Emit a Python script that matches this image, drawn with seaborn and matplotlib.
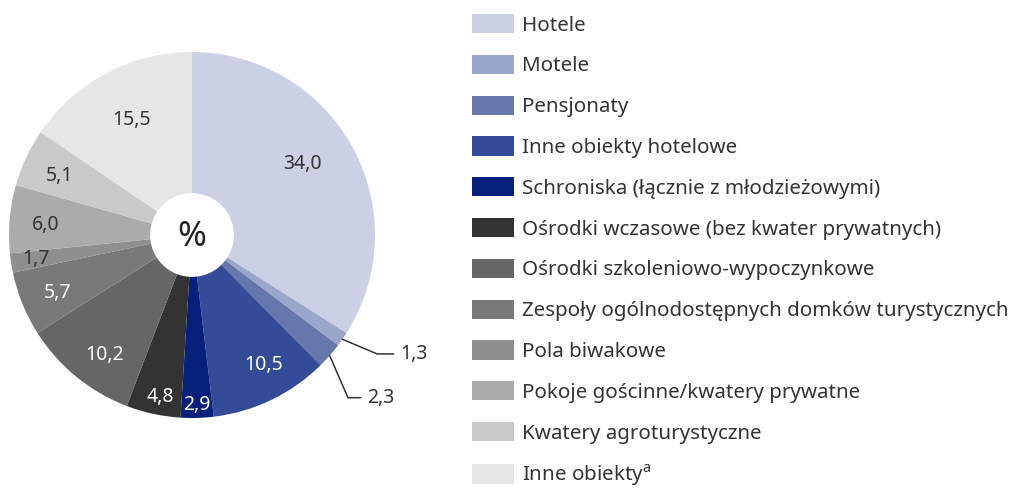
import numpy as np
import matplotlib
matplotlib.use("Agg")
import matplotlib.pyplot as plt
import seaborn as sns

categories = [
    "Hotele", "Motele", "Pensjonaty", "Inne obiekty hotelowe",
    "Schroniska (łącznie z młodzieżowymi)",
    "Ośrodki wczasowe (bez kwater prywatnych)",
    "Ośrodki szkoleniowo-wypoczynkowe",
    "Zespoły ogólnodostępnych domków turystycznych",
    "Pola biwakowe", "Pokoje gościnne/kwatery prywatne",
    "Kwatery agroturystyczne", "Inne obiekty$^{\\mathrm{a}}$",
]
values = [34.0, 1.3, 2.3, 10.5, 2.9, 4.8, 10.2, 5.7, 1.7, 6.0, 5.1, 15.5]
value_labels = ["34,0", "1,3", "2,3", "10,5", "2,9", "4,8", "10,2", "5,7", "1,7", "6,0", "5,1", "15,5"]
colors = ["#cbd0e4", "#9ba6cc", "#6677ab", "#344b97", "#07207c", "#333333",
          "#666666", "#797979", "#8f8f8f", "#ababab", "#c9c9c9", "#e6e6e6"]

# layout only
label_r = [0.72, None, None, 0.81, 0.93, 0.90, 0.81, 0.80, 0.86, 0.80, 0.79, 0.71]
label_dang = [4, 0, 0, 3, 0, 1, 3, 1, 0, 1, 1, 0]
white_text = [False, False, False, True, True, True, True, True, False, False, False, False]
leader = {1: ((0.19, -0.08), 0.09), 2: ((0.10, -0.23), 0.07)}

sns.set_theme(style="white")
plt.rcParams["font.family"] = ["Noto Sans", "DejaVu Sans"]
plt.rcParams["mathtext.fontset"] = "custom"
plt.rcParams["mathtext.rm"] = "Noto Sans"

W, H = 1017, 491
fig = plt.figure(figsize=(W / 100, H / 100), dpi=100)
fig.patch.set_facecolor("white")

ppu = 183.0
cx, cy = 192.0, 235.0
xl = (-1.05, 1.55)
yl = (-1.25, 1.28)
ax = fig.add_axes([(cx + xl[0] * ppu) / W, (H - (cy - yl[0] * ppu)) / H,
                   (xl[1] - xl[0]) * ppu / W, (yl[1] - yl[0]) * ppu / H])

wedges, _ = ax.pie(values, colors=colors, startangle=90, counterclock=False,
                   radius=1.0, wedgeprops=dict(linewidth=0))
ax.set_xlim(*xl)
ax.set_ylim(*yl)
ax.set_axis_off()

# center hole
ax.add_patch(plt.Circle((0, 0), 0.225, color="white", zorder=5))
ax.text(0, -0.01, "%", ha="center", va="center", fontsize=25, color="#222222", zorder=6)

for i, w in enumerate(wedges):
    mid = np.deg2rad((w.theta1 + w.theta2) / 2 + label_dang[i])
    if label_r[i] is not None:
        r = label_r[i]
        ax.text(r * np.cos(mid), r * np.sin(mid), value_labels[i], ha="center", va="center",
                fontsize=14, color="white" if white_text[i] else "#333333", zorder=4)
    else:
        (ex, ey), hl = leader[i]
        x0, y0 = np.cos(mid), np.sin(mid)
        x1, y1 = x0 + ex, y0 + ey
        x2 = x1 + hl
        ax.plot([x0, x1, x2], [y0, y1, y1], color="#333333", lw=1.1, solid_joinstyle="miter")
        ax.text(x2 + 0.035, y1, value_labels[i], ha="left", va="center", fontsize=14, color="#333333")

leg = fig.legend(wedges, categories, loc="upper left",
                 bbox_to_anchor=(472 / W, 1 - 14 / H), frameon=False,
                 fontsize=14.8, handlelength=2.04, handleheight=1.07,
                 handletextpad=0.38, labelspacing=0.93, borderaxespad=0,
                 borderpad=0, labelcolor="#333333")

fig.savefig("out.png", dpi=100, facecolor="white")
